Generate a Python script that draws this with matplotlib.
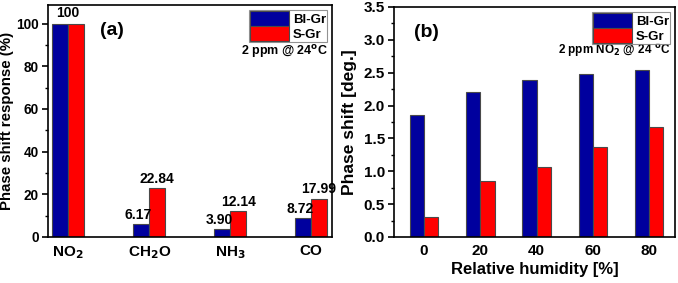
import matplotlib
matplotlib.use("Agg")
import matplotlib.pyplot as plt
import numpy as np

plt.rcParams['font.family'] = ['Liberation Sans', 'DejaVu Sans']
plt.rcParams['font.weight'] = 'bold'
plt.rcParams['axes.labelweight'] = 'bold'

gases = ['NO$_2$', 'CH$_2$O', 'NH$_3$', 'CO']
gas_bl = [100, 6.17, 3.90, 8.72]
gas_s = [100, 22.84, 12.14, 17.99]
gas_lbl_bl = ['100', '6.17', '3.90', '8.72']
gas_lbl_s = ['', '22.84', '12.14', '17.99']

rh = [0, 20, 40, 60, 80]
rh_bl = [1.86, 2.21, 2.39, 2.48, 2.54]
rh_s = [0.31, 0.85, 1.07, 1.37, 1.67]

blue = '#00009E'
red = '#FF0000'
edge = '#4a4a4a'

fig = plt.figure(figsize=(6.78, 2.83), dpi=100)
W, H = 678, 283
ax1 = fig.add_axes([48/W, 1-237/H, (332-48)/W, (237-5)/H])
ax2 = fig.add_axes([394/W, 1-237/H, (675-394)/W, (237-7)/H])

def style(ax, ysize):
    for s in ax.spines.values():
        s.set_linewidth(1.2)
        s.set_color('black')
    ax.tick_params(axis='y', which='major', direction='out', length=4, width=1.2, labelsize=ysize, pad=2.5)
    ax.tick_params(axis='y', which='minor', direction='out', length=2.5, width=1)
    ax.tick_params(axis='x', which='both', length=0, labelsize=11, pad=5)

def legend(ax):
    leg = ax.legend(loc='upper right', fontsize=9.5, frameon=True, fancybox=False, handlelength=2.9,
                    handleheight=1.35, handletextpad=0.3, borderpad=0.12, labelspacing=0.0,
                    borderaxespad=0.35, edgecolor='#777777')
    leg.get_frame().set_linewidth(0.8)

# Panel (a)
x = np.arange(len(gases))
w = 0.2
ax1.bar(x - w/2, gas_bl, w, color=blue, edgecolor=edge, linewidth=0.8, label='Bl-Gr')
ax1.bar(x + w/2, gas_s, w, color=red, edgecolor=edge, linewidth=0.8, label='S-Gr')
for i in range(len(gases)):
    if gas_lbl_s[i] == '':
        ax1.text(x[i], gas_bl[i] + 1.5, gas_lbl_bl[i], ha='center', va='bottom', fontsize=10, fontweight='bold')
    else:
        ax1.text(x[i] - w/2 - 0.03, gas_bl[i] + 1.0, gas_lbl_bl[i], ha='center', va='bottom', fontsize=10, fontweight='bold')
        ax1.text(x[i] + w/2, gas_s[i] + 1.0, gas_lbl_s[i], ha='center', va='bottom', fontsize=10, fontweight='bold')
ax1.set_xlim(-0.25, 3.26)
ax1.set_ylim(0, 108.7)
ax1.set_yticks([0, 20, 40, 60, 80, 100])
ax1.set_yticks(np.arange(10, 101, 20), minor=True)
ax1.set_xticks(x)
ax1.set_xticklabels(gases)
ax1.set_ylabel('Phase shift response (%)', fontsize=10.8, labelpad=2)
style(ax1, 9.8)
ax1.text(0.183, 0.888, '(a)', transform=ax1.transAxes, fontsize=14, fontweight='bold', va='center')
legend(ax1)
ax1.text(0.985, 0.80, '2 ppm @ 24$^{\\mathbf{o}}$C', transform=ax1.transAxes, ha='right', va='center',
         fontsize=9, fontweight='bold')

# Panel (b)
wb = 5.1
rx = np.array(rh)
ax2.bar(rx - wb/2, rh_bl, wb, color=blue, edgecolor=edge, linewidth=0.8, label='Bl-Gr')
ax2.bar(rx + wb/2, rh_s, wb, color=red, edgecolor=edge, linewidth=0.8, label='S-Gr')
ax2.set_xlim(-10.7, 89.2)
ax2.set_ylim(0, 3.5)
ax2.set_yticks(np.arange(0, 3.51, 0.5))
ax2.set_yticks(np.arange(0.25, 3.5, 0.5), minor=True)
ax2.set_xticks(rh)
ax2.set_xticklabels([str(v) for v in rh])
ax2.yaxis.set_major_formatter(matplotlib.ticker.FormatStrFormatter('%.1f'))
ax2.set_ylabel('Phase shift [deg.]', fontsize=12.5, labelpad=5)
ax2.set_xlabel('Relative humidity [%]', fontsize=12, labelpad=3)
style(ax2, 11)
ax2.text(0.071, 0.887, '(b)', transform=ax2.transAxes, fontsize=14, fontweight='bold', va='center')
legend(ax2)
ax2.text(0.985, 0.813, '2 ppm NO$_\\mathbf{2}$ @ 24 $^{\\mathbf{o}}$C', transform=ax2.transAxes, ha='right',
         va='center', fontsize=8.5, fontweight='bold')

fig.savefig('out.png', dpi=100)
